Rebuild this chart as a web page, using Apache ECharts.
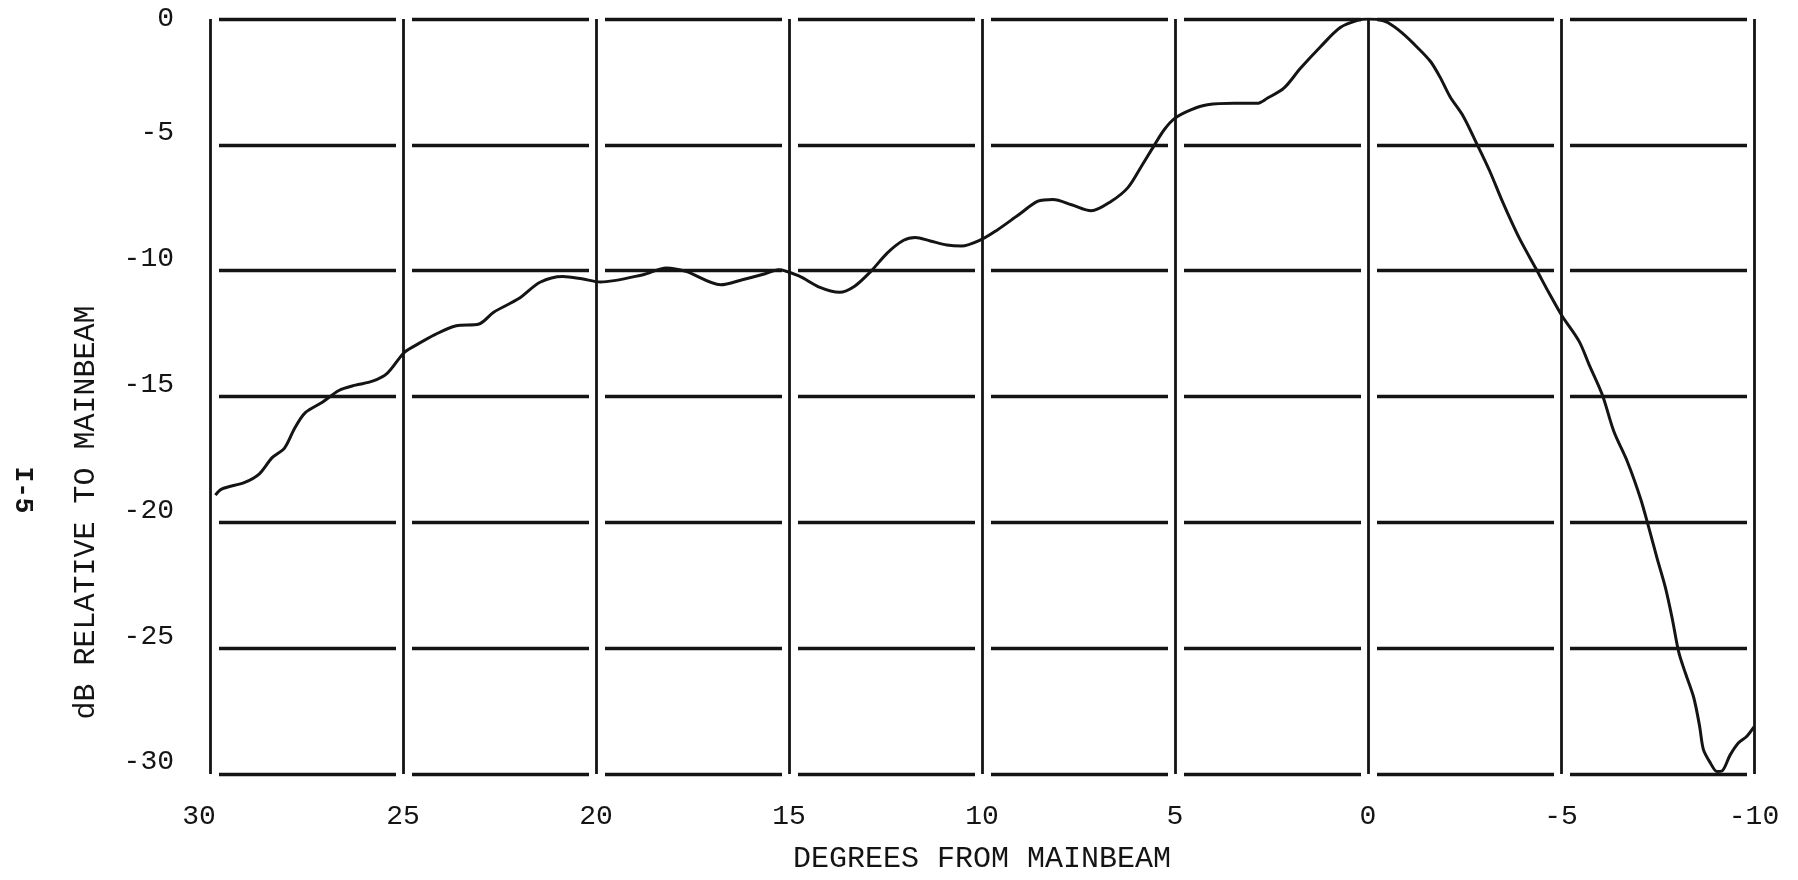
<!DOCTYPE html>
<html>
<head>
<meta charset="utf-8">
<title>dB relative to mainbeam</title>
<script src="https://cdn.jsdelivr.net/npm/echarts@6/dist/echarts.min.js"></script>
<style>
  html, body { margin: 0; padding: 0; background: #ffffff; }
  #chart { width: 1798px; height: 880px; }
</style>
</head>
<body>
<div id="chart"></div>
<script>
// Measured antenna pattern: angle off the main beam (degrees) and level (dB)
const degrees = [
  29.86, 29.70, 29.10, 28.72, 28.39, 28.07, 27.80, 27.53, 27.09, 26.66,
  26.23, 25.79, 25.41, 24.98, 24.71, 24.16, 23.62, 23.03, 22.65, 22.00,
  21.45, 20.86, 20.37, 19.89, 18.78, 18.18, 17.67, 16.77, 16.21, 15.62,
  15.27, 14.72, 14.25, 13.69, 13.31, 12.88, 12.45, 12.03, 11.73, 11.34,
  10.91, 10.53, 10.00, 9.63, 9.06, 8.55, 8.16, 7.68, 7.17, 6.65,
  6.22, 5.88, 5.53, 5.28, 5.00, 4.59, 4.16, 3.47, 2.87, 2.61,
  2.18, 1.75, 1.23, 0.71, 0.24, 0.00, -0.26, -0.51, -0.89, -1.28,
  -1.62, -1.87, -2.13, -2.47, -2.81, -3.15, -3.49, -3.91, -4.38, -4.68,
  -5.02, -5.47, -5.73, -6.07, -6.37, -6.72, -7.06, -7.28, -7.49, -7.71,
  -7.88, -8.05, -8.22, -8.44, -8.59, -8.69, -8.87, -9.04, -9.17, -9.38,
  -9.60, -9.81, -10.00
];
const levels = [
  -18.92, -18.68, -18.41, -18.07, -17.43, -17.05, -16.24, -15.64, -15.23, -14.76,
  -14.55, -14.39, -14.08, -13.27, -13.00, -12.53, -12.19, -12.12, -11.65, -11.11,
  -10.46, -10.23, -10.32, -10.45, -10.16, -9.89, -10.03, -10.56, -10.36, -10.12,
  -9.96, -10.23, -10.63, -10.86, -10.63, -10.03, -9.29, -8.79, -8.68, -8.82,
  -8.98, -9.02, -8.75, -8.41, -7.79, -7.24, -7.17, -7.38, -7.62, -7.24,
  -6.70, -5.88, -5.00, -4.40, -3.94, -3.61, -3.41, -3.35, -3.35, -3.15,
  -2.75, -1.96, -1.10, -0.33, -0.04, 0.00, -0.02, -0.14, -0.56, -1.13,
  -1.69, -2.32, -3.10, -3.87, -4.93, -6.03, -7.28, -8.68, -10.00, -10.86,
  -11.78, -12.81, -13.74, -14.93, -16.39, -17.59, -19.05, -20.24, -21.43, -22.62,
  -23.81, -25.16, -25.98, -26.97, -28.09, -29.03, -29.56, -29.90, -29.88, -29.25,
  -28.76, -28.51, -28.13
];

// Axis ranges and tick steps
const xRange = [-10, 30];
const xStep = 5;
const yRange = [-30, 0];
const yStep = 5;

const xTitle = 'DEGREES FROM MAINBEAM';
const yTitle = 'dB RELATIVE TO MAINBEAM';
const pageMark = 'I-5';

const typeFace = '"Liberation Mono", "DejaVu Sans Mono", monospace';
const ink = '#141414';

const pattern = degrees.map((d, i) => [d, levels[i]]);

const chart = echarts.init(document.getElementById('chart'), null, { renderer: 'canvas' });

chart.setOption({
  backgroundColor: '#ffffff',
  animation: false,
  grid: { left: 210, right: 44, top: 19, bottom: 106, containLabel: false },
  xAxis: {
    type: 'value',
    inverse: true,
    min: xRange[0],
    max: xRange[1],
    interval: xStep,
    name: xTitle,
    nameLocation: 'middle',
    nameGap: 70,
    nameTextStyle: { fontFamily: typeFace, fontSize: 30, color: ink },
    axisLine: { show: false },
    axisTick: { show: false },
    axisLabel: {
      margin: 29,
      // the outermost label sits a little left of its grid line
      formatter: v => (v === xRange[1] ? '{e|' + v + '}' : '{n|' + v + '}'),
      rich: {
        e: { fontFamily: typeFace, fontSize: 28, color: ink, padding: [0, 22, 0, 0] },
        n: { fontFamily: typeFace, fontSize: 28, color: ink }
      }
    },
    splitLine: { show: true, lineStyle: { color: ink, width: 2.8, type: 'solid' } }
  },
  yAxis: {
    type: 'value',
    min: yRange[0],
    max: yRange[1],
    interval: yStep,
    name: yTitle,
    nameLocation: 'middle',
    nameRotate: 90,
    nameGap: 109,
    nameTextStyle: { fontFamily: typeFace, fontSize: 30, color: ink, padding: [0, 232, 0, 0] },
    axisLine: { show: false },
    axisTick: { show: false },
    axisLabel: {
      margin: 36,
      formatter: v => (v === 0 ? '{z|' + v + '}' : '{n|' + v + '}'),
      rich: {
        z: { fontFamily: typeFace, fontSize: 28, color: ink },
        n: { fontFamily: typeFace, fontSize: 28, color: ink, padding: [0, 0, 24, 0] }
      }
    },
    splitLine: {
      show: true,
      lineStyle: { color: ink, width: 3.4, type: [177, 16], dashOffset: 184 }
    }
  },
  graphic: [{
    type: 'text',
    x: 23,
    y: 490,
    rotation: -Math.PI / 2,
    style: {
      text: pageMark,
      fontFamily: typeFace,
      fontSize: 26,
      fontWeight: 'bold',
      fill: ink,
      align: 'center',
      verticalAlign: 'middle'
    }
  }],
  series: [{
    type: 'line',
    data: pattern,
    showSymbol: false,
    smooth: 0.3,
    lineStyle: { color: ink, width: 3 },
    z: 5
  }]
});
</script>
</body>
</html>
